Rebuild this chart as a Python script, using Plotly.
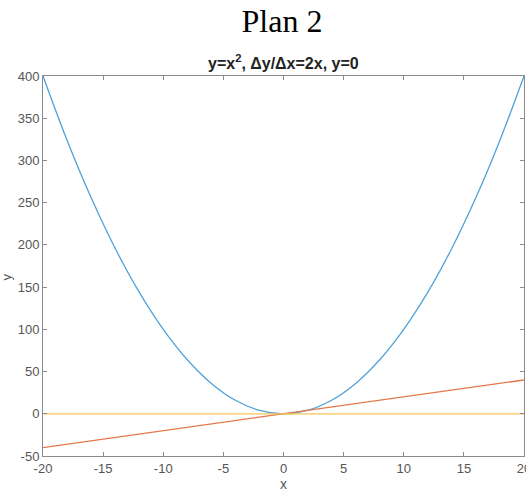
import plotly.graph_objects as go

# Data
x_vals = [-20, -18, -16, -14, -12, -10, -8, -6, -4, -2, 0, 2, 4, 6, 8, 10, 12, 14, 16, 18, 20]
y_square = [400, 324, 256, 196, 144, 100, 64, 36, 16, 4, 0, 4, 16, 36, 64, 100, 144, 196, 256, 324, 400]
x_line = [-20, 20]
y_slope = [-40, 40]
y_zero = [0, 0]

x_ticks = [-20, -15, -10, -5, 0, 5, 10, 15, 20]
y_ticks = [-50, 0, 50, 100, 150, 200, 250, 300, 350, 400]

fig = go.Figure()
fig.add_trace(go.Scatter(x=x_vals, y=y_square, mode="lines",
                         line=dict(color="#4fa3da", width=1.3, shape="spline")))
fig.add_trace(go.Scatter(x=x_line, y=y_slope, mode="lines",
                         line=dict(color="#e5764a", width=1.3)))
fig.add_trace(go.Scatter(x=x_line, y=y_zero, mode="lines",
                         line=dict(color="#f3c455", width=1.3)))

axis_common = dict(
    showgrid=False, zeroline=False, showline=True, linecolor="#8a8a8a", linewidth=1,
    mirror="ticks", ticks="inside", ticklen=4, tickcolor="#8a8a8a",
    ticklabeloverflow="allow",
    tickfont=dict(family="Liberation Sans, Arial", size=13, color="#555555"),
)

W, H = 526, 497

fig.update_layout(
    width=W, height=H,
    margin=dict(l=43, r=2, t=76, b=41, autoexpand=False),
    paper_bgcolor="white", plot_bgcolor="white",
    showlegend=False,
    title=dict(text="Plan 2", x=282 / W, xanchor="center", y=1 - 21 / H, yanchor="middle",
               font=dict(family="Liberation Serif, Times New Roman", size=32, color="black")),
    xaxis=dict(range=[-20, 20], tickvals=x_ticks, ticktext=[str(v) for v in x_ticks],
               title=dict(text="x", standoff=4,
                          font=dict(family="Liberation Sans, Arial", size=14, color="#555555")),
               **axis_common),
    yaxis=dict(range=[-50, 400], tickvals=y_ticks, ticktext=[str(v) for v in y_ticks],
               **axis_common),
    annotations=[
        dict(text="<b>y=x<sup>2</sup>, Δy/Δx=2x, y=0</b>", xref="paper", yref="paper",
             x=0.5, y=1.0, xanchor="center", yanchor="bottom", yshift=2, showarrow=False,
             font=dict(family="Liberation Sans, Arial", size=16, color="#222222")),
        dict(text="y", xref="paper", yref="paper", x=(6 - 43) / 481, y=0.47,
             xanchor="center", yanchor="middle", textangle=-90, showarrow=False,
             font=dict(family="Liberation Sans, Arial", size=13, color="#555555")),
    ],
)

fig.write_html(
    "out.html",
    config={"displayModeBar": False},
    post_script="document.body.style.margin='0';document.body.style.overflow='hidden';",
)
